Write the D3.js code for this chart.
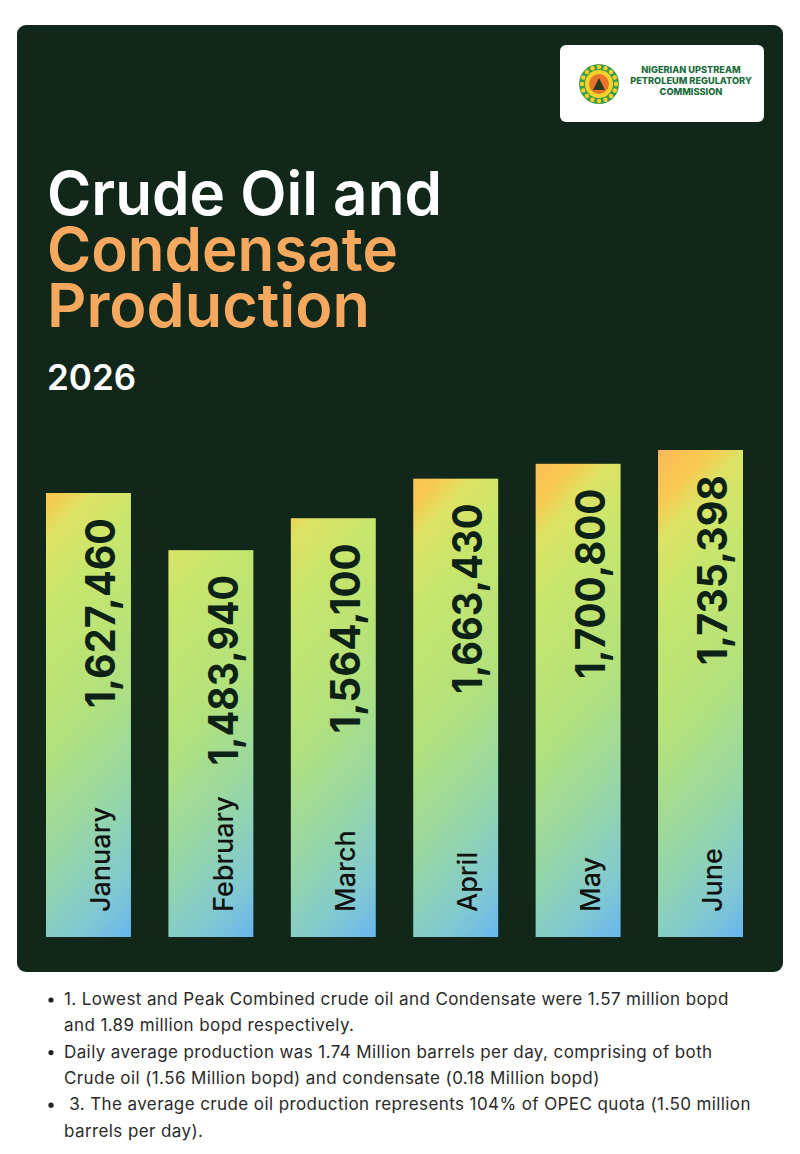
<!DOCTYPE html>
<html>
<head>
<meta charset="utf-8">
<script src="https://cdn.jsdelivr.net/npm/d3@7"></script>
<style>
  body { margin: 0; background: #ffffff; }
  svg text { font-family: Inter, "Open Sans", sans-serif; }
</style>
</head>
<body>
<div id="chart"></div>
<script>
// data
const months = ["January", "February", "March", "April", "May", "June"];
const production = [1627460, 1483940, 1564100, 1663430, 1700800, 1735398];
const titleWhite = ["Crude Oil and"];
const titleOrange = ["Condensate", "Production"];
const year = "2026";
const agencyLines = ["NIGERIAN UPSTREAM", "PETROLEUM REGULATORY", "COMMISSION"];
const notes = [
  { bullet: true,  text: "1. Lowest and Peak Combined crude oil and Condensate were 1.57 million bopd" },
  { bullet: false, text: "and 1.89 million bopd respectively." },
  { bullet: true,  text: "Daily average production was 1.74 Million barrels per day, comprising of both" },
  { bullet: false, text: "Crude oil (1.56 Million bopd) and condensate (0.18 Million bopd)" },
  { bullet: true,  text: "\u00a03. The average crude oil production represents 104% of OPEC quota (1.50 million" },
  { bullet: false, text: "barrels per day)." }
];

const width = 800, height = 1154;
const baseY = 937;
const gradTop = 420;

const svg = d3.select("#chart").append("svg")
  .attr("width", width)
  .attr("height", height);

const defs = svg.append("defs");

// dark panel
svg.append("rect")
  .attr("x", 17).attr("y", 25)
  .attr("width", 766).attr("height", 947)
  .attr("rx", 9)
  .attr("fill", "#10271a");

// logo box
const logo = svg.append("g");
logo.append("rect")
  .attr("x", 560).attr("y", 45)
  .attr("width", 204).attr("height", 77)
  .attr("rx", 6)
  .attr("fill", "#ffffff");

// emblem (simplified)
const em = logo.append("g").attr("transform", "translate(599,84)");
em.append("circle").attr("r", 20).attr("fill", "#3f9b48");
em.selectAll(".tooth")
  .data(d3.range(16))
  .join("circle")
  .attr("class", "tooth")
  .attr("cx", d => 17 * Math.cos(d / 16 * 2 * Math.PI))
  .attr("cy", d => 17 * Math.sin(d / 16 * 2 * Math.PI))
  .attr("r", 2.2)
  .attr("fill", "#f3d22b");
em.append("circle").attr("r", 14).attr("fill", "#f3d22b");
em.append("circle").attr("r", 10).attr("fill", "#e8742c");
em.append("path")
  .attr("d", "M-6,6 L0,-6 L6,6 Z")
  .attr("fill", "#2c3b24");

logo.selectAll(".agency")
  .data(agencyLines)
  .join("text")
  .attr("class", "agency")
  .attr("x", 691)
  .attr("y", (d, i) => 73 + i * 11)
  .attr("text-anchor", "middle")
  .attr("font-size", 9.2)
  .attr("font-weight", 800)
  .attr("fill", "#1b6b3c")
  .text(d => d);

// title
const titleLens = [395, 351, 323];
svg.selectAll(".title")
  .data(titleWhite.concat(titleOrange))
  .join("text")
  .attr("class", "title")
  .attr("x", 47)
  .attr("y", (d, i) => 215 + i * 56)
  .attr("font-size", 61)
  .attr("font-weight", 600)
  .attr("textLength", (d, i) => titleLens[i])
  .attr("lengthAdjust", "spacingAndGlyphs")
  .attr("fill", (d, i) => i === 0 ? "#ffffff" : "#f5a85e")
  .text(d => d);

svg.append("text")
  .attr("x", 47).attr("y", 390)
  .attr("font-size", 35)
  .attr("font-weight", 600)
  .attr("fill", "#ffffff")
  .text(year);

// scales
const x = d3.scaleBand()
  .domain(months)
  .range([46, 743])
  .paddingInner(0.306)
  .paddingOuter(0);

const y = d3.scaleLinear()
  .domain([512600, 1735398])
  .range([baseY, 450]);

const data = months.map((m, i) => ({ month: m, value: production[i], id: i }));

// one gradient per bar, sharing a common top so taller bars get warmer tops
const stops = [
  [0, "#f6917f"], [0.07, "#fbbd57"], [0.14, "#f8c950"], [0.2, "#dde264"],
  [0.32, "#c6e66c"], [0.55, "#b2e17c"], [0.75, "#95d6a8"], [0.9, "#80c8d2"], [1, "#67b5ef"]
];
data.forEach(d => {
  const w = x.bandwidth();
  const a = 0.15 / w, b = 0.85 / (baseY - gradTop);
  const n = a * a + b * b;
  const g = defs.append("linearGradient")
    .attr("id", "grad" + d.id)
    .attr("gradientUnits", "userSpaceOnUse")
    .attr("x1", x(d.month)).attr("y1", gradTop)
    .attr("x2", x(d.month) + a / n).attr("y2", gradTop + b / n);
  g.selectAll("stop")
    .data(stops)
    .join("stop")
    .attr("offset", s => s[0])
    .attr("stop-color", s => s[1]);
});

svg.selectAll(".bar")
  .data(data)
  .join("rect")
  .attr("class", "bar")
  .attr("x", d => x(d.month))
  .attr("y", d => y(d.value))
  .attr("width", x.bandwidth())
  .attr("height", d => baseY - y(d.value))
  .attr("fill", d => `url(#grad${d.id})`);

const fmt = d3.format(",");

// value labels
svg.selectAll(".val")
  .data(data)
  .join("text")
  .attr("class", "val")
  .attr("transform", d => `translate(${x(d.month) + x.bandwidth() / 2 + 12},${y(d.value) + 25}) rotate(-90)`)
  .attr("dy", "0.36em")
  .attr("text-anchor", "end")
  .attr("font-size", 41)
  .attr("font-weight", 700)
  .attr("textLength", 190)
  .attr("lengthAdjust", "spacingAndGlyphs")
  .attr("fill", "#0d2216")
  .text(d => fmt(d.value));

// month labels
svg.selectAll(".month")
  .data(data)
  .join("text")
  .attr("class", "month")
  .attr("transform", d => `translate(${x(d.month) + x.bandwidth() / 2 + 12},${baseY - 25}) rotate(-90)`)
  .attr("dy", "0.36em")
  .attr("text-anchor", "start")
  .attr("font-size", 27)
  .attr("font-weight", 500)
  .attr("fill", "#111111")
  .text(d => d.month);

// notes
const noteG = svg.append("g");
notes.forEach((n, i) => {
  const ty = 1005 + i * 26.3;
  if (n.bullet) {
    noteG.append("circle").attr("cx", 51).attr("cy", ty - 5).attr("r", 2.6).attr("fill", "#222");
  }
  noteG.append("text")
    .attr("x", 64).attr("y", ty)
    .attr("font-size", 17)
    .attr("letter-spacing", 0.4)
    .attr("fill", "#2a2a2a")
    .style("white-space", "pre")
    .text(n.text);
});
</script>
</body>
</html>
